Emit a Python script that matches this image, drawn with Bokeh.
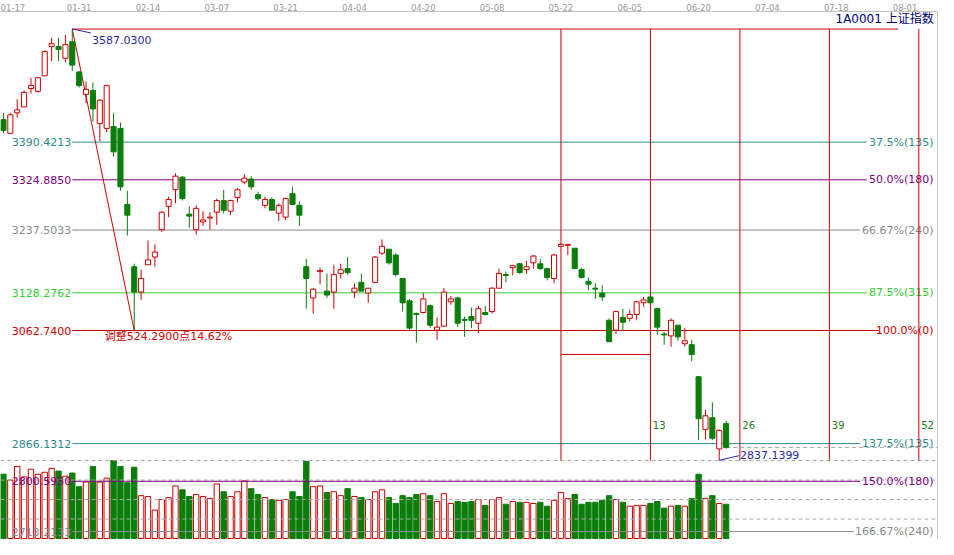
from bokeh.plotting import figure
from bokeh.models import Range1d, FixedTicker, ColumnDataSource, Span
from bokeh.core.properties import value
from bokeh.embed import file_html
from bokeh.resources import INLINE

# ---------------- data ----------------
dates = ["01-17", "01-31", "02-14", "03-07", "03-21", "04-04", "04-20",
         "05-08", "05-22", "06-05", "06-20", "07-04", "07-18", "08-01"]
date_idx = [1, 11, 21, 31, 41, 51, 61, 71, 81, 91, 101, 111, 121, 131]

open_ = [3429.4, 3405.7, 3441.3, 3451.5, 3483.7, 3478.6, 3505.7, 3556.5, 3556.5, 3536.2,
         3565.0, 3512.4, 3473.5, 3480.3, 3422.7, 3414.2, 3417.6, 3414.2, 3282.1, 3173.7,
         3129.6, 3177.1, 3190.6, 3238.0, 3278.7, 3307.5, 3329.5, 3265.1, 3238.0, 3251.6,
         3258.4, 3268.5, 3288.8, 3270.2, 3293.9, 3321.0, 3326.1, 3299.0, 3280.4, 3290.5,
         3266.8, 3260.0, 3300.7, 3280.4, 3173.7, 3119.4, 3165.2, 3131.3, 3129.6, 3161.8,
         3170.3, 3129.6, 3146.6, 3127.9, 3146.6, 3197.4, 3204.2, 3194.0, 3153.3, 3114.4,
         3092.3, 3094.0, 3105.9, 3063.5, 3070.3, 3112.7, 3119.4, 3082.2, 3087.2, 3075.4,
         3094.0, 3095.7, 3136.4, 3160.1, 3172.0, 3178.8, 3168.6, 3180.5, 3178.8, 3170.3,
         3153.3, 3209.2, 3210.9, 3205.9, 3168.6, 3148.3, 3136.4, 3127.9, 3080.5, 3063.5,
         3085.6, 3083.9, 3090.6, 3111.0, 3121.1, 3100.8, 3056.8, 3053.4, 3072.0, 3039.8,
         3038.1, 2982.4, 2890.8, 2911.1, 2856.9, 2900.9]
high = [3441.3, 3441.3, 3465.0, 3480.3, 3502.3, 3504.0, 3549.7, 3571.7, 3571.7, 3576.8,
        3587.03, 3514.1, 3495.5, 3493.8, 3465.0, 3490.4, 3441.3, 3424.4, 3305.8, 3178.8,
        3168.6, 3219.4, 3212.6, 3270.2, 3295.6, 3336.3, 3331.2, 3278.7, 3280.4, 3270.2,
        3268.5, 3292.2, 3307.5, 3290.5, 3310.9, 3334.6, 3331.2, 3304.1, 3295.6, 3293.9,
        3283.8, 3293.9, 3312.6, 3287.1, 3187.2, 3136.4, 3172.0, 3161.8, 3177.1, 3178.8,
        3190.6, 3144.9, 3161.8, 3136.4, 3192.3, 3221.1, 3204.2, 3197.4, 3153.3, 3117.7,
        3094.0, 3127.9, 3107.6, 3085.6, 3136.4, 3122.8, 3121.1, 3087.2, 3102.5, 3105.9,
        3105.9, 3138.1, 3170.3, 3165.2, 3177.1, 3180.5, 3183.8, 3194.0, 3187.2, 3172.0,
        3195.7, 3214.3, 3212.6, 3205.9, 3172.0, 3155.0, 3144.9, 3141.5, 3083.9, 3097.4,
        3100.8, 3099.1, 3114.4, 3121.1, 3122.8, 3102.5, 3060.1, 3083.9, 3072.0, 3066.9,
        3046.6, 2983.9, 2924.7, 2938.2, 2890.8, 2906.0]
low = [3405.7, 3405.7, 3432.8, 3451.5, 3475.2, 3476.9, 3505.7, 3531.1, 3531.1, 3529.4,
       3514.1, 3485.3, 3458.2, 3426.1, 3392.2, 3407.4, 3365.1, 3305.8, 3227.9, 3062.74,
       3116.0, 3177.1, 3173.7, 3234.6, 3260.0, 3283.8, 3288.8, 3241.4, 3229.6, 3244.8,
       3238.0, 3246.5, 3266.8, 3263.4, 3285.5, 3317.6, 3307.5, 3288.8, 3275.3, 3271.9,
       3253.3, 3255.0, 3282.1, 3244.8, 3100.8, 3092.3, 3143.2, 3119.4, 3100.8, 3153.3,
       3160.1, 3119.4, 3131.3, 3111.0, 3144.9, 3194.0, 3177.1, 3156.7, 3095.7, 3063.5,
       3041.5, 3092.3, 3066.9, 3046.6, 3068.6, 3107.6, 3068.6, 3051.7, 3066.9, 3058.4,
       3089.0, 3092.3, 3136.4, 3146.6, 3158.4, 3161.8, 3161.8, 3170.3, 3168.6, 3150.0,
       3144.9, 3209.2, 3194.0, 3170.3, 3153.3, 3133.0, 3117.7, 3114.4, 3043.2, 3056.8,
       3061.8, 3078.8, 3080.5, 3104.2, 3111.0, 3055.1, 3038.1, 3034.7, 3044.9, 3034.7,
       3009.4, 2872.1, 2873.8, 2872.1, 2837.14, 2857.0]
close = [3410.8, 3437.9, 3446.4, 3476.9, 3488.7, 3502.3, 3548.0, 3561.6, 3551.4, 3559.9,
         3524.3, 3488.7, 3482.0, 3448.1, 3463.3, 3488.7, 3373.5, 3312.6, 3263.4, 3129.6,
         3153.3, 3185.5, 3199.1, 3268.5, 3290.5, 3331.2, 3292.2, 3261.7, 3275.3, 3255.0,
         3260.0, 3288.8, 3271.9, 3288.8, 3307.5, 3327.8, 3312.6, 3292.2, 3290.5, 3271.9,
         3280.4, 3292.2, 3282.1, 3263.4, 3153.3, 3134.7, 3166.9, 3124.5, 3160.1, 3168.6,
         3163.5, 3136.4, 3131.3, 3136.4, 3190.6, 3209.2, 3180.5, 3160.1, 3111.0, 3066.9,
         3090.6, 3117.7, 3072.0, 3068.6, 3129.6, 3117.7, 3075.4, 3080.5, 3080.5, 3100.8,
         3090.6, 3136.4, 3161.8, 3158.4, 3175.4, 3163.5, 3173.7, 3192.3, 3170.3, 3155.0,
         3194.0, 3212.6, 3212.6, 3170.3, 3155.0, 3143.2, 3134.7, 3121.1, 3043.2, 3095.7,
         3077.1, 3090.6, 3112.7, 3116.0, 3111.0, 3068.6, 3055.1, 3080.5, 3051.7, 3044.9,
         3021.2, 2909.4, 2914.5, 2875.5, 2889.1, 2859.5]
volume = [165, 150, 185, 158, 178, 165, 170, 180, 173, 160,
          168, 133, 145, 185, 145, 155, 200, 185, 143, 183,
          110, 108, 73, 100, 105, 135, 125, 108, 113, 108,
          103, 140, 120, 108, 120, 148, 128, 113, 105, 100,
          98, 100, 120, 108, 198, 133, 135, 118, 120, 110,
          128, 108, 105, 100, 120, 125, 105, 90, 110, 105,
          113, 115, 110, 95, 115, 90, 95, 93, 95, 100,
          85, 100, 105, 88, 95, 93, 93, 90, 93, 83,
          98, 118, 103, 113, 88, 93, 93, 98, 110, 100,
          93, 83, 85, 85, 90, 95, 78, 83, 85, 83,
          103, 165, 103, 110, 90, 88]
vol_grid = [50, 100, 150, 200]

swing_high, swing_high_idx = 3587.03, 10
swing_low, swing_low_idx = 3062.74, 19
new_low, new_low_idx = 2837.1399, 104
fib_ratios = [0.375, 0.5, 0.6667, 0.875, 1.0, 1.375, 1.5, 1.6667]
fib_left = ["3390.4213", "3324.8850", "3237.5033", "3128.2762",
            "3062.7400", "2866.1312", "2800.5950", "2713.2133"]
fib_right = ["37.5%(135)", "50.0%(180)", "66.67%(240)", "87.5%(315)",
             "100.0%(0)", "137.5%(135)", "150.0%(180)", "166.67%(240)"]
zone_start_idx = 81
zone_counts = [13, 26, 39, 52]
zone_box_price = 3021.2
drop_text = "调整524.2900点14.62%"
title_text = "1A0001  上证指数"

# ---------------- colours ----------------
RED = "#cc0000"
GREEN = "#0a7d0a"
TEAL = "#2e8b8b"
PURPLE = "#800080"
GRAY = "#8a8a8a"
LIME = "#33cc33"
NAVY = "#2a2aa0"
fib_colors = [TEAL, PURPLE, GRAY, LIME, RED, TEAL, PURPLE, GRAY]

# ---------------- geometry helpers (reference pixel -> data) ----------------
BAR_PX, BAR0_PX = 7.0, 3.0
def px_x(px):
    return (px - BAR0_PX) / BAR_PX
P31, PPX = 3587.03, 1.694
def px_y(py):
    return P31 - (py - 31) * PPX
VBASE, VPX = 554, 2.5
def px_v(py):
    return (VBASE - py) * VPX

W, H = 938, 539
p = figure(width=W, height=H, output_backend="svg", toolbar_location=None,
           x_range=Range1d(px_x(0), px_x(954)), y_range=Range1d(px_y(555), px_y(13)),
           x_axis_location="above", y_axis_location=None,
           min_border_left=0, min_border_right=0, min_border_top=0, min_border_bottom=0,
           outline_line_color=None, background_fill_color="white",
           border_fill_color="white")
p.extra_y_ranges = {"vol": Range1d(px_v(555), px_v(13))}
p.xgrid.visible = False
p.ygrid.visible = False

ax = p.xaxis[0]
ax.ticker = FixedTicker(ticks=date_idx)
ax.major_label_overrides = {i: d for i, d in zip(date_idx, dates)}
ax.major_tick_line_color = None
ax.minor_tick_line_color = None
ax.major_tick_out = 0
ax.major_label_standoff = 1
ax.major_label_text_font = "DejaVu Sans"
ax.major_label_text_font_size = "8.5px"
ax.major_label_text_color = "#9a9a9a"
ax.axis_line_color = "#c4c4c4"

FONT = value("DejaVu Sans")
n = len(open_)
idx = list(range(n))
up = [c >= o for o, c in zip(open_, close)]

# ---------------- volume ----------------
vsrc = ColumnDataSource(dict(
    x=idx, top=volume,
    fill=["white" if u else GREEN for u in up],
    line=[RED if u else GREEN for u in up]))
p.vbar(x="x", top="top", bottom=0, width=0.78, source=vsrc, y_range_name="vol",
       fill_color="fill", line_color="line", line_width=1)

# volume grid dashed lines
for g in vol_grid:
    p.segment(x0=[px_x(0)], x1=[px_x(953)], y0=[g], y1=[g], y_range_name="vol",
              line_color="#a8a8a8", line_dash="4 3", line_width=1)

# ---------------- fib levels ----------------
rng = swing_high - swing_low
for r, lt, rt, col in zip(fib_ratios, fib_left, fib_right, fib_colors):
    lvl = swing_high - r * rng
    end_px = 949 - len(rt) * 6.6 - 2
    if rt.startswith("100"):
        end_px = 949 - len(rt) * 6.6 + 4
    p.segment(x0=[swing_high_idx], x1=[px_x(end_px)], y0=[lvl], y1=[lvl],
              line_color=col, line_width=1)
    p.text(x=[px_x(72)], y=[lvl], text=[lt], text_font=FONT, text_font_size="11px",
           text_color=col, text_align="right", text_baseline="middle")
    p.text(x=[px_x(949)], y=[lvl], text=[rt], text_font=FONT, text_font_size="11px",
           text_color=col, text_align="right", text_baseline="middle")

# top line at swing high
p.segment(x0=[swing_high_idx], x1=[px_x(913)], y0=[swing_high], y1=[swing_high],
          line_color=RED, line_width=1)
# diagonal high -> low
p.segment(x0=[swing_high_idx], x1=[swing_low_idx], y0=[swing_high], y1=[swing_low],
          line_color=RED, line_width=1)
p.text(x=[px_x(106)], y=[px_y(347)], text=[drop_text],
       text_font=value("DejaVu Sans, Noto Sans CJK SC"), text_font_size="11px",
       text_color=RED, text_align="left", text_baseline="middle")

# time zone lines
for k in [0] + zone_counts:
    xi = zone_start_idx + k
    p.segment(x0=[xi], x1=[xi], y0=[swing_high], y1=[px_y(474)],
              line_color=RED, line_width=1)
    if k:
        p.text(x=[xi + 0.35], y=[px_y(437)], text=[str(k)], text_font=FONT,
               text_font_size="10px", text_color="#1f7a1f", text_align="left",
               text_baseline="middle")
p.segment(x0=[zone_start_idx], x1=[zone_start_idx + zone_counts[0]],
          y0=[zone_box_price], y1=[zone_box_price], line_color=RED, line_width=1)

# last price dashed line
p.segment(x0=[n - 1], x1=[px_x(953)], y0=[close[-1]], y1=[close[-1]],
          line_color="#a8a8a8", line_dash="4 3", line_width=1)

# right border
p.add_layout(Span(location=px_x(953), dimension="height", line_color="#c8c8c8",
                  line_width=1))

# ---------------- candles ----------------
csrc = ColumnDataSource(dict(
    x=idx, high=high, low=low,
    top=[max(o, c) for o, c in zip(open_, close)],
    bottom=[min(o, c) for o, c in zip(open_, close)],
    fill=["white" if u else GREEN for u in up],
    line=[RED if u else GREEN for u in up]))
p.segment(x0="x", x1="x", y0="low", y1="high", line_color="line", source=csrc,
          line_width=1)
p.vbar(x="x", top="top", bottom="bottom", width=0.74, fill_color="fill",
       line_color="line", line_width=1, source=csrc)

# ---------------- annotations for extremes ----------------
p.segment(x0=[swing_high_idx], x1=[px_x(92)], y0=[swing_high], y1=[px_y(35)],
          line_color=NAVY, line_width=1)
p.text(x=[px_x(93)], y=[px_y(42)], text=["%.4f" % swing_high], text_font=FONT,
       text_font_size="11px", text_color=NAVY, text_align="left", text_baseline="middle")
p.segment(x0=[new_low_idx], x1=[px_x(751)], y0=[new_low], y1=[px_y(469)],
          line_color=NAVY, line_width=1)
p.text(x=[px_x(752)], y=[px_y(468)], text=["%.4f" % new_low], text_font=FONT,
       text_font_size="11px", text_color=NAVY, text_align="left", text_baseline="middle")

# header
p.text(x=[px_x(953)], y=[px_y(14)], text=[title_text],
       text_font=value("DejaVu Sans, Noto Sans CJK SC"), text_font_size="12px",
       text_color="#000080", text_align="right", text_baseline="top")

open("out.html", "w").write(file_html(p, INLINE))
